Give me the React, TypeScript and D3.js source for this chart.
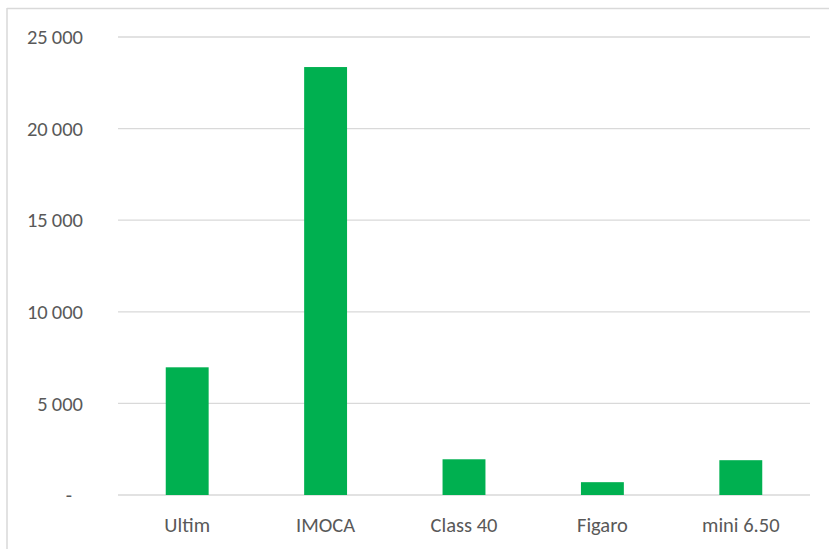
import React from 'react';
import * as d3 from 'd3';

const categories = ['Ultim', 'IMOCA', 'Class 40', 'Figaro', 'mini 6.50'];
const values = [6970, 23360, 1950, 700, 1900];
const yTicks = [0, 5000, 10000, 15000, 20000, 25000];

const W = 829;
const H = 549;
const margin = { top: 37, right: 19, bottom: 54, left: 118 };

const fmt = (v: number) => (v === 0 ? '-' : d3.format(',')(v).replace(/,/g, '\u2009'));

const App = () => {
  const x = d3.scaleBand()
    .domain(categories)
    .range([margin.left, W - margin.right])
    .paddingInner(0.69)
    .paddingOuter(0.345);

  const y = d3.scaleLinear()
    .domain([0, 25000])
    .range([H - margin.bottom, margin.top]);

  const font = "Calibri, Carlito, 'Noto Sans', sans-serif";

  return (
    <svg width={W} height={H} style={{ position: 'absolute', left: 0, top: 0 }} fontFamily={font}>
      <rect x={0} y={0} width={W} height={H} fill="white" />
      {/* chart area border, only top and left visible */}
      <line x1={7} x2={W} y1={8.5} y2={8.5} stroke="#d9d9d9" strokeWidth={1.5} />
      <line x1={7} x2={7} y1={8} y2={H} stroke="#d9d9d9" strokeWidth={1.5} />

      {yTicks.map(t => (
        <g key={t}>
          <line x1={margin.left} x2={W - margin.right} y1={y(t)} y2={y(t)} stroke="#d9d9d9" strokeWidth={1.3} />
          <text
            x={t === 0 ? 72 : 83}
            y={y(t)}
            dy="0.35em"
            textAnchor="end"
            fill="#595959"
            fontSize={20.5}
          >{fmt(t)}</text>
        </g>
      ))}

      {categories.map((c, i) => (
        <rect
          key={c}
          x={x(c)}
          y={y(values[i])}
          width={x.bandwidth()}
          height={y(0) - y(values[i])}
          fill="#00b050"
        />
      ))}

      {categories.map(c => (
        <text
          key={c}
          x={(x(c) as number) + x.bandwidth() / 2}
          y={525}
          dy="0.35em"
          textAnchor="middle"
          fill="#595959"
          fontSize={20.5}
        >{c}</text>
      ))}
    </svg>
  );
};

export default App;
